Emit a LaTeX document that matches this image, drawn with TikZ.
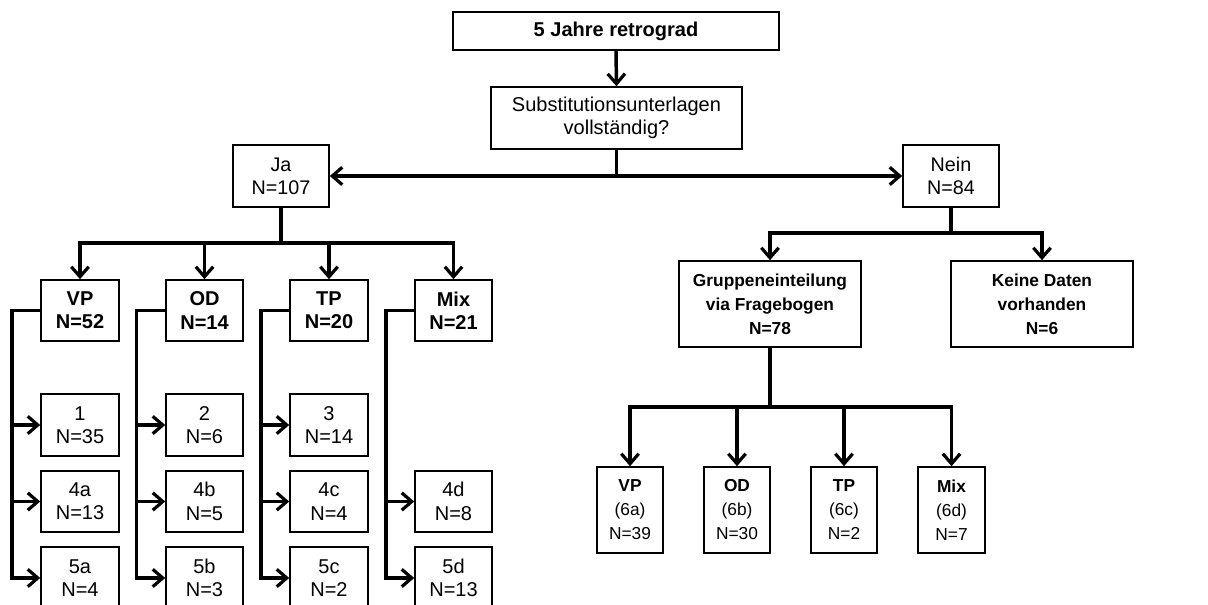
\documentclass[tikz,border=0pt]{standalone}
\usepackage{fontspec}
\setmainfont{Liberation Sans}
\usetikzlibrary{arrows.meta}
\tikzset{
  box/.style={draw=black, line width=1.2pt, inner sep=0pt, align=center, fill=white},
  wh/.style 2 args={minimum width=#1*0.75pt, minimum height=#2*0.75pt},
  lreg/.style={font=\fontsize{15}{17.5}\selectfont},
  lbold/.style={font=\fontsize{15}{17.5}\selectfont\bfseries},
  mreg/.style={font=\fontsize{14.8}{17.5}\selectfont},
  rreg/.style={font=\fontsize{13}{18}\selectfont},
  rbold/.style={font=\fontsize{13}{18}\selectfont\bfseries},
  conn/.style={line width=2.6pt, draw=black},
  arr/.style={conn, -{Straight Barb[length=7.5pt,width=13pt,line width=2.4pt]}},
}
\begin{document}
\begin{tikzpicture}[x=0.75pt,y=-0.75pt]
\useasboundingbox (0,0) rectangle (1208,605);
% top part
\node[box,lbold,wh={326}{38}] (top) at (616,31) {5 Jahre retrograd};
\node[box,lreg,wh={251}{62}] (sub) at (616.5,118) {Substitutionsunterlagen\\vollst\"andig?};
\node[box,mreg,wh={96}{62}] (ja) at (281,176) {Ja\\N=107};
\node[box,mreg,wh={96}{62}] (nein) at (951,176) {Nein\\N=84};
% left groups
\node[box,lbold,wh={78}{61}] (vp) at (80,310.5) {VP\\N=52};
\node[box,lbold,wh={77}{61}] (od) at (204.5,310.5) {OD\\N=14};
\node[box,lbold,wh={78}{61}] (tp) at (329,310.5) {TP\\N=20};
\node[box,lbold,wh={77}{61}] (mix) at (453.5,310.5) {Mix\\N=21};
% left children
\node[box,lreg,wh={78}{62}] (c1) at (80,425) {1\\N=35};
\node[box,lreg,wh={78}{61}] (c4a) at (80,501.5) {4a\\N=13};
\node[box,lreg,wh={78}{62}] (c5a) at (80,578) {5a\\N=4};
\node[box,lreg,wh={77}{62}] (c2) at (204.5,425) {2\\N=6};
\node[box,lreg,wh={77}{61}] (c4b) at (204.5,501.5) {4b\\N=5};
\node[box,lreg,wh={77}{62}] (c5b) at (204.5,578) {5b\\N=3};
\node[box,lreg,wh={78}{62}] (c3) at (329,425) {3\\N=14};
\node[box,lreg,wh={78}{61}] (c4c) at (329,501.5) {4c\\N=4};
\node[box,lreg,wh={78}{62}] (c5c) at (329,578) {5c\\N=2};
\node[box,lreg,wh={77}{61}] (c4d) at (453.5,501.5) {4d\\N=8};
\node[box,lreg,wh={77}{62}] (c5d) at (453.5,578) {5d\\N=13};
% right part
\node[box,rbold,wh={182}{86}] (grp) at (770,304) {Gruppeneinteilung\\via Fragebogen\\N=78};
\node[box,rbold,wh={182}{86}] (keine) at (1042,304) {Keine Daten\\vorhanden\\N=6};
\node[box,rreg,wh={66}{86}] (r1) at (630,510) {\textbf{VP}\\(6a)\\N=39};
\node[box,rreg,wh={66}{86}] (r2) at (737,510) {\textbf{OD}\\(6b)\\N=30};
\node[box,rreg,wh={66}{86}] (r3) at (844,510) {\textbf{TP}\\(6c)\\N=2};
\node[box,rreg,wh={67}{86}] (r4) at (951.5,510) {\textbf{Mix}\\(6d)\\N=7};
% connectors top
\draw[arr] (top.south) -- (sub.north);
\coordinate (sj) at (sub.south |- ja.east);
\draw[conn] (sub.south) -- (sj);
\draw[arr] (sj) -- (ja.east);
\draw[arr] (sj) -- (nein.west);
% Ja branch
\coordinate (jbar) at (281,243);
\draw[conn] (ja.south) -- (jbar);
\draw[arr] (jbar) -| (vp.north);
\draw[arr] (jbar) -| (od.north);
\draw[arr] (jbar) -| (tp.north);
\draw[arr] (jbar) -| (mix.north);
% left children connectors
\coordinate (vpL) at ([xshift=-28*0.75pt]vp.west);
\coordinate (odL) at ([xshift=-28.5*0.75pt]od.west);
\coordinate (tpL) at ([xshift=-28*0.75pt]tp.west);
\coordinate (mixL) at ([xshift=-28*0.75pt]mix.west);
\draw[arr] (vp.west) -- (vpL) |- (c5a.west);
\draw[arr] (vpL |- c1.west) -- (c1.west);
\draw[arr] (vpL |- c4a.west) -- (c4a.west);
\draw[arr] (od.west) -- (odL) |- (c5b.west);
\draw[arr] (odL |- c2.west) -- (c2.west);
\draw[arr] (odL |- c4b.west) -- (c4b.west);
\draw[arr] (tp.west) -- (tpL) |- (c5c.west);
\draw[arr] (tpL |- c3.west) -- (c3.west);
\draw[arr] (tpL |- c4c.west) -- (c4c.west);
\draw[arr] (mix.west) -- (mixL) |- (c5d.west);
\draw[arr] (mixL |- c4d.west) -- (c4d.west);
% Nein branch
\coordinate (nbar) at (951,233);
\draw[conn] (nein.south) -- (nbar);
\draw[arr] (nbar) -| (grp.north);
\draw[arr] (nbar) -| (keine.north);
\coordinate (gbar) at (770,407);
\draw[conn] (grp.south) -- (gbar);
\draw[arr] (gbar) -| (r1.north);
\draw[arr] (gbar) -| (r2.north);
\draw[arr] (gbar) -| (r3.north);
\draw[arr] (gbar) -| (r4.north);
\end{tikzpicture}
\end{document}
